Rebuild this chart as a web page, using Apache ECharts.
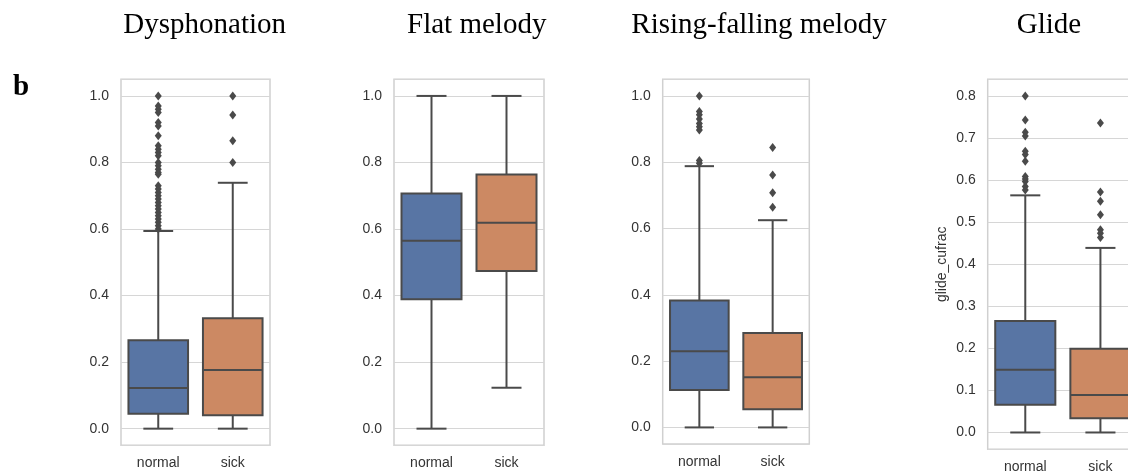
<!DOCTYPE html>
<html>
<head>
<meta charset="utf-8">
<script src="https://cdn.jsdelivr.net/npm/echarts@6/dist/echarts.min.js"></script>
<style>
html,body{margin:0;padding:0;background:#fff;}
#chart{width:1128px;height:476px;}
</style>
</head>
<body>
<div id="chart"></div>
<script>
// ---------- data ----------
const categories = ['normal', 'sick'];
const panelTitles = ['Dysphonation', 'Flat melody', 'Rising-falling melody', 'Glide'];
const panelLetter = 'b';
const glideAxisName = 'glide_cufrac';

// [whiskerLow, Q1, median, Q3, whiskerHigh] for normal, sick
const dysphonationBoxes = [
  [0.0, 0.045, 0.122, 0.266, 0.594],
  [0.0, 0.040, 0.176, 0.332, 0.739]
];
const flatMelodyBoxes = [
  [0.0, 0.389, 0.565, 0.707, 1.0],
  [0.123, 0.474, 0.619, 0.764, 1.0]
];
const risingFallingBoxes = [
  [0.0, 0.113, 0.230, 0.383, 0.788],
  [0.0, 0.055, 0.151, 0.285, 0.625]
];
const glideBoxes = [
  [0.0, 0.066, 0.149, 0.265, 0.564],
  [0.0, 0.034, 0.089, 0.199, 0.439]
];

// outliers
const dysphonationOutNormal = [1.0, 0.97, 0.96, 0.95, 0.92, 0.91, 0.88, 0.85, 0.84, 0.83, 0.82, 0.80, 0.79, 0.78, 0.77, 0.765,
  0.73, 0.72, 0.71, 0.70, 0.69, 0.68, 0.67, 0.66, 0.65, 0.64, 0.63, 0.62, 0.61, 0.60];
const dysphonationOutSick = [1.0, 0.943, 0.865, 0.80];
const flatMelodyOutNormal = [];
const flatMelodyOutSick = [];
const risingFallingOutNormal = [1.0, 0.953, 0.943, 0.93, 0.917, 0.907, 0.897, 0.805, 0.797];
const risingFallingOutSick = [0.844, 0.761, 0.708, 0.664];
const glideOutNormal = [0.8, 0.743, 0.714, 0.705, 0.669, 0.661, 0.645, 0.609, 0.603, 0.597, 0.585, 0.577];
const glideOutSick = [0.736, 0.572, 0.55, 0.518, 0.482, 0.474, 0.464];

// ---------- styles / layout ----------
const boxColors = ['#5875A4', '#CC8963'];
const lineGray = '#4a4a4a';
const gridLayouts = [
  {left: 121, right: 858, top: 79.3, bottom: 30.7},
  {left: 394, right: 584, top: 79.3, bottom: 30.7},
  {left: 662.7, right: 318.7, top: 79.3, bottom: 32},
  {left: 987.7, right: -10, top: 79.3, bottom: 26.7}
];
const yRanges = [
  {min: -0.05, max: 1.05, splitNumber: 5},
  {min: -0.05, max: 1.05, splitNumber: 5},
  {min: -0.05, max: 1.05, splitNumber: 5},
  {min: -0.04, max: 0.84, splitNumber: 8}
];
const titleCenters = [204.7, 476.7, 759, 1049];

const panels = [
  {boxes: dysphonationBoxes, out: [dysphonationOutNormal, dysphonationOutSick]},
  {boxes: flatMelodyBoxes, out: [flatMelodyOutNormal, flatMelodyOutSick]},
  {boxes: risingFallingBoxes, out: [risingFallingOutNormal, risingFallingOutSick]},
  {boxes: glideBoxes, out: [glideOutNormal, glideOutSick]}
];

function renderBox(params, api) {
  const ci = api.value(0);
  const lo = api.value(1), q1 = api.value(2), med = api.value(3), q3 = api.value(4), hi = api.value(5);
  const band = api.size([1, 0])[0];
  const bw = band * 0.8, cw = bw * 0.5;
  const x = api.coord([ci, 0])[0];
  const yLo = api.coord([ci, lo])[1];
  const yQ1 = api.coord([ci, q1])[1];
  const yMed = api.coord([ci, med])[1];
  const yQ3 = api.coord([ci, q3])[1];
  const yHi = api.coord([ci, hi])[1];
  const ls = {stroke: lineGray, lineWidth: 2};
  return {
    type: 'group',
    children: [
      {type: 'line', shape: {x1: x, y1: yLo, x2: x, y2: yQ1}, style: ls},
      {type: 'line', shape: {x1: x, y1: yQ3, x2: x, y2: yHi}, style: ls},
      {type: 'line', shape: {x1: x - cw / 2, y1: yLo, x2: x + cw / 2, y2: yLo}, style: ls},
      {type: 'line', shape: {x1: x - cw / 2, y1: yHi, x2: x + cw / 2, y2: yHi}, style: ls},
      {type: 'rect', shape: {x: x - bw / 2, y: yQ3, width: bw, height: yQ1 - yQ3},
        style: {fill: boxColors[ci], stroke: lineGray, lineWidth: 2}},
      {type: 'line', shape: {x1: x - bw / 2, y1: yMed, x2: x + bw / 2, y2: yMed}, style: ls}
    ]
  };
}

const grid = [], xAxis = [], yAxis = [], series = [];
panels.forEach((p, i) => {
  grid.push(Object.assign({
    show: true, borderColor: '#d0d0d0', borderWidth: 1.5, backgroundColor: 'transparent',
    containLabel: false, outerBoundsMode: 'none'
  }, gridLayouts[i]));
  xAxis.push({
    type: 'category', gridIndex: i, data: categories,
    axisLine: {show: false}, axisTick: {show: false}, splitLine: {show: false},
    axisLabel: {fontSize: 14, color: '#333', margin: 11, fontFamily: 'Liberation Sans'}
  });
  const yr = yRanges[i];
  const ya = {
    type: 'value', gridIndex: i, min: yr.min, max: yr.max, splitNumber: yr.splitNumber,
    axisLine: {show: false}, axisTick: {show: false},
    splitLine: {show: true, lineStyle: {color: '#d6d6d6', width: 1.2}},
    axisLabel: {
      fontSize: 14, color: '#333', margin: 12, fontFamily: 'Liberation Sans',
      showMinLabel: false, showMaxLabel: false,
      formatter: v => (Math.abs(v) < 1e-9 ? 0 : v).toFixed(1)
    }
  };
  if (i === 3) {
    Object.assign(ya, {
      name: glideAxisName, nameLocation: 'middle', nameGap: 39, nameRotate: 90,
      nameTextStyle: {fontSize: 14, color: '#333', fontFamily: 'Liberation Sans'}
    });
  }
  yAxis.push(ya);
  series.push({
    type: 'custom', xAxisIndex: i, yAxisIndex: i,
    renderItem: renderBox,
    encode: {x: 0, y: [1, 2, 3, 4, 5]},
    data: p.boxes.map((b, ci) => [ci].concat(b)),
    z: 2
  });
  const pts = [];
  p.out.forEach((arr, ci) => arr.forEach(v => pts.push([ci, v])));
  series.push({
    type: 'scatter', xAxisIndex: i, yAxisIndex: i,
    symbol: 'diamond', symbolSize: [7, 9],
    itemStyle: {color: lineGray, opacity: 1},
    data: pts, z: 3, silent: true
  });
});

const graphic = panelTitles.map((t, i) => ({
  type: 'text', x: titleCenters[i], y: 25,
  style: {text: t, font: '29px "Liberation Serif"', fill: '#000', textAlign: 'center', textVerticalAlign: 'middle'}
}));
graphic.push({
  type: 'text', x: 13, y: 88,
  style: {text: panelLetter, font: 'bold 29px "Liberation Serif"', fill: '#000', textAlign: 'left', textVerticalAlign: 'middle'}
});

const chart = echarts.init(document.getElementById('chart'), null, {renderer: 'canvas'});
chart.setOption({
  animation: false,
  backgroundColor: '#fff',
  grid, xAxis, yAxis, series, graphic
});
</script>
</body>
</html>
